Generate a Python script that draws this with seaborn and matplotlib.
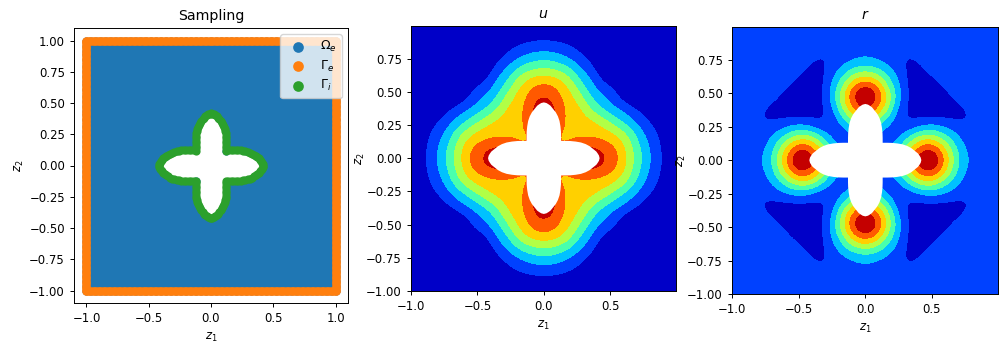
import numpy as np
import matplotlib
matplotlib.use("Agg")
import matplotlib.pyplot as plt
import matplotlib.tri as mtri
from matplotlib.path import Path
import seaborn as sns

sns.set_theme(style="ticks", rc={
    "axes.edgecolor": "black", "axes.labelcolor": "black", "text.color": "black",
    "xtick.color": "black", "ytick.color": "black", "axes.linewidth": 0.7,
    "xtick.major.width": 0.7, "ytick.major.width": 0.7,
    "xtick.major.size": 3, "ytick.major.size": 3,
    "xtick.labelsize": 8.4, "ytick.labelsize": 8.4, "axes.labelsize": 8.4,
    "axes.titlesize": 10.2, "legend.fontsize": 9,
})
plt.rcParams["font.family"] = ["DejaVu Sans"]

# upper half of the first quadrant, white hole in the u and r panels
hole_x = [0, .02, .036, .05, .07, .09, .106, .118, .125, .129, .13, .13]
hole_y = [.42, .415, .405, .395, .37, .345, .315, .28, .24, .20, .165, .13]

# same for the inner boundary samples of the first panel
gamma_x = [0, .012, .024, .036, .047, .058, .068, .078, .087, .096, .104, .11, .115, .119, .122, .124, .124, .124, .124, .122, .12]
gamma_y = [.417, .416, .411, .404, .395, .384, .372, .358, .343, .327, .31, .294, .277, .26, .24, .22, .2, .18, .16, .138, .12]

grid_axis = [0, .05, .1, .15, .2, .25, .3, .35, .4, .45, .5, .55, .6, .65, .7, .75, .8, .85, .9, .95, 1]

# one column per x in grid_axis, values from y = x up to y = 1 (field is symmetric)
u_columns = [
    [8, 8, 8, 8, 8, 8, 8, 8, 7.8, 7.2, 6.6, 6.17, 5.4, 4.5, 3.62, 2.78, 2, 1.41, .8, .5, .3],
    [8, 8, 8, 8, 8, 7.9, 7.6, 7.15, 6.85, 6.45, 6.09, 5.27, 4.36, 3.5, 2.69, 1.94, 1.35, .75, .5, .3],
    [5.8, 5.9, 6.2, 6.4, 6.5, 6.6, 6.65, 6.45, 6.25, 5.63, 5, 4.17, 3.31, 2.54, 1.83, 1.26, .7, .45, .3],
    [5.7, 5.9, 6, 6.05, 6.1, 6, 5.75, 5.45, 5.14, 4.62, 3.83, 3, 2.23, 1.62, 1.08, .65, .4, .25],
    [5.75, 5.8, 5.7, 5.6, 5.45, 5.3, 5.05, 4.53, 4, 3.34, 2.6, 1.9, 1.39, .9, .6, .35, .25],
    [5.6, 5.5, 5.35, 5.1, 4.68, 4.23, 3.74, 3.2, 2.65, 2.06, 1.55, 1.05, .7, .45, .3, .2],
    [5.2, 4.95, 4.5, 4, 3.47, 2.95, 2.5, 2.05, 1.57, 1.1, .75, .5, .35, .25, .15],
    [4.2, 3.68, 3.15, 2.74, 2.37, 2, 1.56, 1.12, .75, .5, .35, .25, .2, .1],
    [3, 2.6, 2.13, 1.67, 1.19, .8, .55, .4, .3, .25, .2, .15, .1],
    [2.2, 1.67, 1.1, .75, .5, .35, .25, .2, .15, .1, .1, .05],
    [1.27, .85, .55, .35, .25, .2, .15, .1, .1, .05, .05],
    [.7, .45, .3, .2, .15, .1, .1, .05, .05, .05],
    [.4, .25, .15, .1, .1, .05, .05, .05, .05],
    [.2, .15, .1, .1, .05, .05, .05, .05],
    [.1, .1, .05, .05, .05, .05, .05],
    [.05, .05, .05, .05, .05, .05],
    [.05, .05, .05, .05, .05],
    [.05, .05, .05, .05],
    [.05, .05, .05],
    [.05, .05],
    [.05],
]

r_columns = [
    [2, 2, 2.5, 3, 4, 5, 6, 7, 7.6, 8.2, 8.3, 7.1, 5.75, 4.33, 3, 2.17, 1.75, 1.55, 1.5, 1.5, 1.5],
    [2, 2, 2.5, 3, 4, 5, 5.8, 6.6, 7.6, 7.6, 6.6, 5.47, 4.09, 2.86, 2.1, 1.7, 1.5, 1.5, 1.5, 1.5],
    [1.5, 1.6, 2, 2.7, 3.8, 5, 6.05, 6.6, 6.6, 5.75, 4.78, 3.6, 2.63, 1.85, 1.6, 1.5, 1.5, 1.5, 1.5],
    [1.3, 1.55, 2.05, 2.85, 3.95, 4.7, 5.2, 5.1, 4.5, 3.75, 2.9, 2.2, 1.65, 1.45, 1.45, 1.5, 1.5, 1.5],
    [1.3, 1.6, 2.1, 2.75, 3.25, 3.7, 3.6, 3.25, 2.7, 2.25, 1.8, 1.45, 1.3, 1.35, 1.4, 1.45, 1.5],
    [1.3, 1.2, 1.5, 1.85, 2.2, 2.35, 2.2, 1.9, 1.6, 1.3, 1.2, 1.15, 1.2, 1.3, 1.4, 1.5],
    [1.1, 1.0, 1.05, 1.15, 1.15, 1.1, 1.05, 1.0, 1.0, 1.0, 1.1, 1.2, 1.3, 1.4, 1.5],
    [.75, .7, .65, .65, .65, .65, .65, .7, .85, 1.2, 1.3, 1.4, 1.45, 1.5],
    [.6, .55, .5, .5, .55, .65, .85, 1.15, 1.25, 1.3, 1.4, 1.45, 1.5],
    [.5, .5, .5, .65, .9, 1.15, 1.25, 1.3, 1.35, 1.4, 1.45, 1.5],
    [.55, .6, .85, 1.15, 1.25, 1.3, 1.35, 1.4, 1.45, 1.5, 1.5],
    [.85, 1.15, 1.25, 1.3, 1.35, 1.4, 1.45, 1.45, 1.5, 1.5],
    [1.25, 1.3, 1.35, 1.4, 1.45, 1.45, 1.5, 1.5, 1.5],
    [1.35, 1.4, 1.45, 1.45, 1.5, 1.5, 1.5, 1.5],
    [1.45, 1.45, 1.5, 1.5, 1.5, 1.5, 1.5],
    [1.5, 1.5, 1.5, 1.5, 1.5, 1.5],
    [1.5, 1.5, 1.5, 1.5, 1.5],
    [1.5, 1.5, 1.5, 1.5],
    [1.5, 1.5, 1.5],
    [1.5, 1.5],
    [1.5],
]

levels = [0, 1, 2, 3, 4, 5, 6, 7, 8]
W, H = 1008, 352


def px_axes(fig, left, right, top, bottom):
    return fig.add_axes([left / W, 1 - bottom / H, (right - left) / W, (bottom - top) / H])


def soften(z):
    # evens out reading errors in the hand-read values
    p = np.pad(z, 1, mode="edge")
    p = (p[:-2, :] + 2 * p[1:-1, :] + p[2:, :]) / 4
    return (p[:, :-2] + 2 * p[:, 1:-1] + p[:, 2:]) / 4


def full_field(columns):
    n = len(columns)
    q = np.zeros((n, n))
    for i, col in enumerate(columns):
        for k, v in enumerate(col):
            q[i + k, i] = v
            q[i, i + k] = v
    top = np.hstack([q[:, :0:-1], q])
    return soften(np.vstack([top[:0:-1, :], top]))


def outline(half_x, half_y):
    # mirror the upper half into the whole clover
    x = np.array(list(half_x) + list(half_y[-2::-1]))
    y = np.array(list(half_y) + list(half_x[-2::-1]))
    xs = np.concatenate([x, x[::-1][1:], -x[1:], -x[::-1][1:-1]])
    ys = np.concatenate([y, -y[::-1][1:], -y[1:], y[::-1][1:-1]])
    return xs, ys


hx, hy = outline(hole_x, hole_y)
cx, cy = outline(gamma_x, gamma_y)
palette = sns.color_palette("tab10")
fig = plt.figure(figsize=(W / 100, H / 100), dpi=100)

# Sampling
ax = px_axes(fig, 74, 348, 28, 303)
side = np.linspace(-1, 1, 51)
gx, gy = np.meshgrid(side, side)
pts = np.column_stack([gx.ravel(), gy.ravel()])
pts = pts[~Path(np.column_stack([cx, cy])).contains_points(pts)]
edge = np.linspace(-1, 1, 201)
ex = np.concatenate([edge, edge, -np.ones(201), np.ones(201)])
ey = np.concatenate([-np.ones(201), np.ones(201), edge, edge])
sns.scatterplot(x=pts[:, 0], y=pts[:, 1], s=35, color=palette[0], linewidth=0, label=r"$\Omega_e$", ax=ax)
sns.scatterplot(x=ex, y=ey, s=35, color=palette[1], linewidth=0, label=r"$\Gamma_e$", ax=ax)
sns.scatterplot(x=cx, y=cy, s=35, color=palette[2], linewidth=0, label=r"$\Gamma_i$", ax=ax)
ax.set_xlim(-1.1, 1.1)
ax.set_ylim(-1.1, 1.1)
ax.set_xticks([-1, -0.5, 0, 0.5, 1])
ax.set_yticks([-1, -0.75, -0.5, -0.25, 0, 0.25, 0.5, 0.75, 1])
ax.set_yticklabels(["\u22121.00", "\u22120.75", "\u22120.50", "\u22120.25", "0.00", "0.25", "0.50", "0.75", "1.00"])
ax.set_title("Sampling")
ax.set_xlabel("$z_1$")
ax.set_ylabel("$z_2$", labelpad=2)
ax.legend(loc="upper right", markerscale=1.3, labelspacing=0.35)

# u and r fields, smoothed by matplotlib's triangulation refiner
grid = np.concatenate([-np.array(grid_axis[:0:-1]), grid_axis])
X, Y = np.meshgrid(grid, grid)
tri = mtri.Triangulation(X.ravel(), Y.ravel())
refiner = mtri.UniformTriRefiner(tri)
for columns, title, box in [(u_columns, "$u$", (411, 676, 26, 291)), (r_columns, "$r$", (732, 998, 27, 294))]:
    ax = px_axes(fig, *box)
    fine_tri, fine_z = refiner.refine_field(full_field(columns).ravel(), subdiv=3)
    ax.tricontourf(fine_tri, np.clip(fine_z, 0.01, 7.99), levels=levels, cmap="jet")
    ax.fill(hx, hy, color="white", linewidth=0, zorder=3)
    ax.set_xlim(-1, 0.995)
    ax.set_ylim(-1, 0.995)
    ax.set_xticks([-1, -0.5, 0, 0.5])
    ax.set_yticks([-1, -0.75, -0.5, -0.25, 0, 0.25, 0.5, 0.75])
    ax.set_yticklabels(["\u22121.00", "\u22120.75", "\u22120.50", "\u22120.25", "0.00", "0.25", "0.50", "0.75"])
    ax.set_title(title)
    ax.set_xlabel("$z_1$")
    ax.set_ylabel("$z_2$", labelpad=-0.5)

plt.savefig("out.png", dpi=100)
